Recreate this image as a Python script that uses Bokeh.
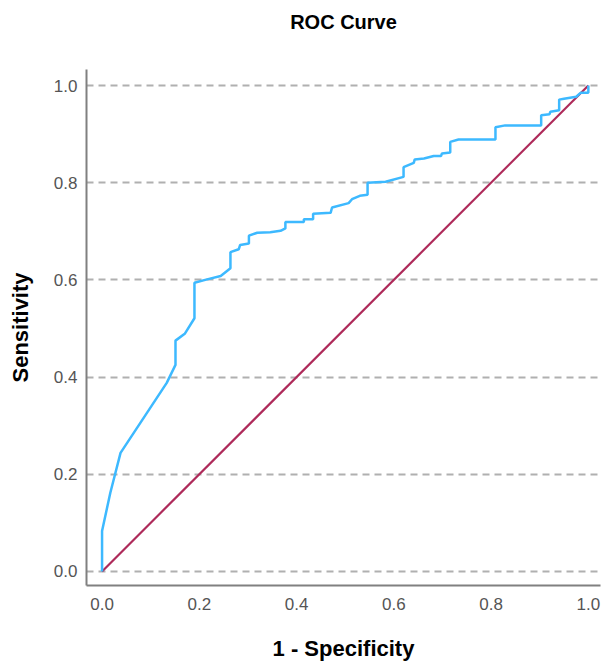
from bokeh.plotting import figure
from bokeh.models import Range1d, FixedTicker, PrintfTickFormatter, LinearAxis
from bokeh.embed import file_html
from bokeh.resources import INLINE

# ROC curve points (1 - specificity, sensitivity)
fpr = [0, 0, 0.017, 0.038, 0.133, 0.151, 0.151, 0.170, 0.190, 0.190,
       0.216, 0.244, 0.264, 0.264, 0.281, 0.284, 0.302, 0.302, 0.319, 0.346,
       0.367, 0.377, 0.377, 0.415, 0.415, 0.434, 0.434, 0.470, 0.473, 0.507,
       0.514, 0.530, 0.546, 0.546, 0.583, 0.620, 0.620, 0.641, 0.643, 0.662,
       0.682, 0.697, 0.699, 0.716, 0.716, 0.733, 0.809, 0.809, 0.829, 0.903,
       0.903, 0.920, 0.922, 0.940, 0.940, 0.950, 0.975, 0.984, 1.0, 1.0]
tpr = [0, 0.083, 0.162, 0.244, 0.388, 0.425, 0.475, 0.489, 0.521, 0.594,
       0.601, 0.608, 0.624, 0.657, 0.663, 0.672, 0.675, 0.691, 0.697, 0.698,
       0.701, 0.706, 0.719, 0.719, 0.725, 0.725, 0.736, 0.738, 0.749, 0.758,
       0.766, 0.773, 0.775, 0.800, 0.802, 0.812, 0.832, 0.841, 0.848, 0.850,
       0.855, 0.855, 0.860, 0.862, 0.884, 0.889, 0.889, 0.914, 0.918, 0.918,
       0.939, 0.941, 0.946, 0.949, 0.971, 0.973, 0.977, 0.985, 0.985, 1.0]

# Reference line
ref_x = [0, 1]
ref_y = [0, 1]

ticks = [0.0, 0.2, 0.4, 0.6, 0.8, 1.0]
title_text = "ROC Curve"

FONT = "Liberation Sans"

p = figure(width=601, height=663, output_backend="svg", toolbar_location=None,
           x_range=Range1d(-0.032, 1.025), y_range=Range1d(-0.029, 1.033),
           min_border_left=86, min_border_right=1, min_border_top=69,
           min_border_bottom=77)

p.outline_line_color = None
p.background_fill_color = "white"
p.border_fill_color = "white"

p.line(ref_x, ref_y, line_color="#AE2A5A", line_width=2.2)
p.line(fpr, tpr, line_color="#3DB9FF", line_width=2.5)

bottom_axis = p.below[0]
left_axis = p.left[0]

for ax in (bottom_axis, left_axis):
    ax.ticker = FixedTicker(ticks=ticks)
    ax.formatter = PrintfTickFormatter(format="%.1f")
    ax.major_tick_line_color = None
    ax.minor_tick_line_color = None
    ax.axis_line_color = "#808080"
    ax.axis_line_width = 2
    ax.major_label_text_font = FONT
    ax.major_label_text_font_size = "17px"
    ax.major_label_text_color = "#555555"
    ax.axis_label_text_font = FONT
    ax.axis_label_text_font_size = "22px"
    ax.axis_label_text_font_style = "bold"
    ax.axis_label_text_color = "#000000"

bottom_axis.axis_label = "1 - Specificity"
left_axis.axis_label = "Sensitivity"
bottom_axis.major_label_standoff = 6
left_axis.major_label_standoff = 3
bottom_axis.axis_label_standoff = 23
left_axis.axis_label_standoff = 18

# Chart title drawn as the label of a bare axis above the frame
top_axis = LinearAxis(ticker=FixedTicker(ticks=[]), axis_label=title_text,
                      axis_line_color=None, major_tick_line_color=None,
                      minor_tick_line_color=None,
                      major_label_text_font_size="0px",
                      major_label_standoff=0,
                      axis_label_standoff=37,
                      axis_label_text_font=FONT,
                      axis_label_text_font_size="20px",
                      axis_label_text_font_style="bold",
                      axis_label_text_color="#000000")
p.add_layout(top_axis, "above")

p.xgrid.grid_line_color = None
p.ygrid.ticker = FixedTicker(ticks=ticks)
p.ygrid.grid_line_color = "#B0B0B0"
p.ygrid.grid_line_width = 2
p.ygrid.grid_line_dash = "7 5"

open("out.html", "w").write(file_html(p, INLINE))
